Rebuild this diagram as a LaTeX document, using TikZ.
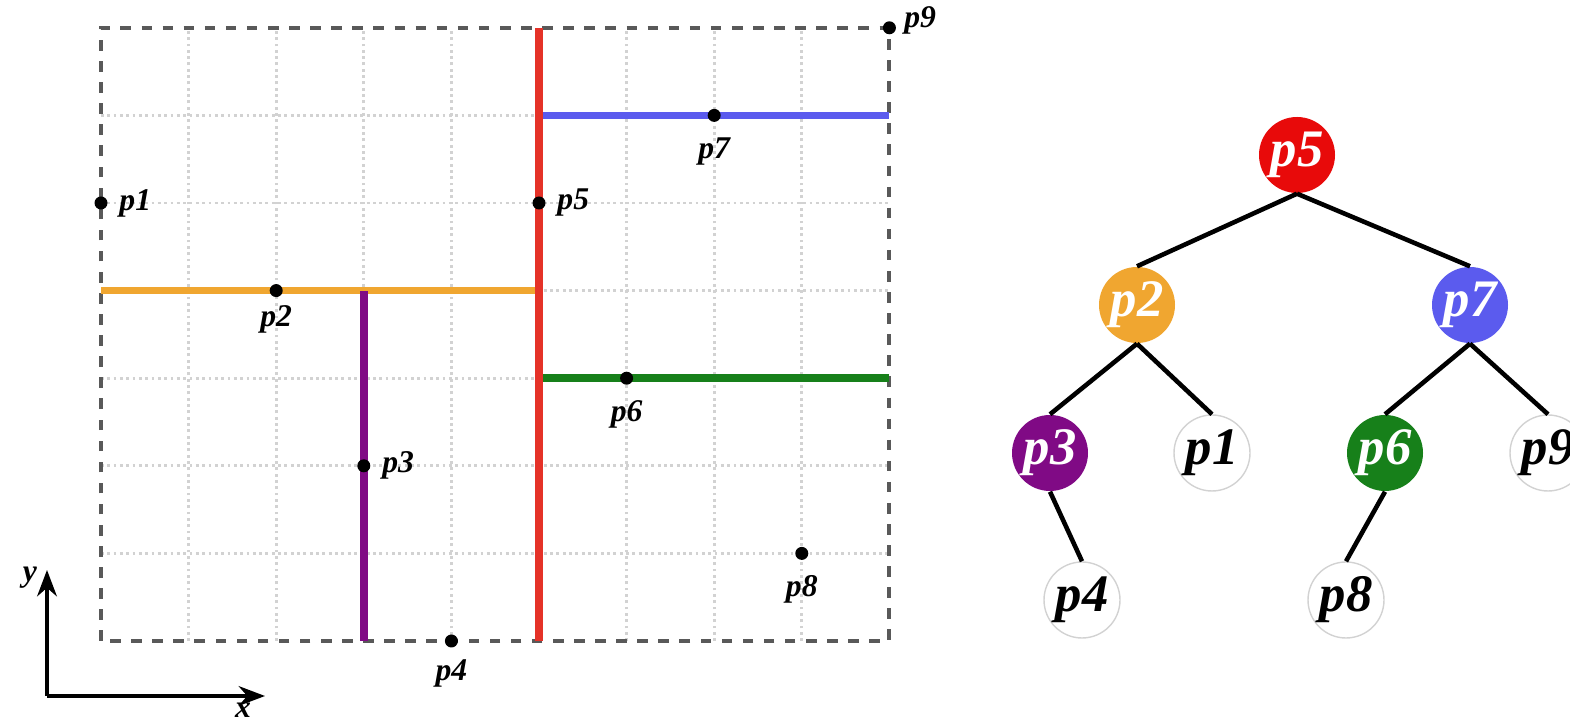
\documentclass[tikz,border=0pt]{standalone}
\usepackage{fontspec}
\setmainfont{Liberation Serif}
\usetikzlibrary{arrows.meta, positioning}
\definecolor{cutred}{HTML}{E53228}
\definecolor{cutorange}{HTML}{F0A630}
\definecolor{cutpurple}{HTML}{800A85}
\definecolor{cutblue}{HTML}{5B5BEE}
\definecolor{cutgreen}{HTML}{17801A}
\definecolor{rootred}{HTML}{E80A0A}

\begin{document}
\begin{tikzpicture}[>=Stealth, font=\bfseries\itshape,
  pt/.style={circle, fill=black, inner sep=0pt, minimum size=0.13cm},
  lab/.style={font=\fontsize{9}{10}\selectfont\bfseries\itshape, inner sep=2pt},
  cut/.style={line width=2.2pt},
  knot/.style={circle, minimum size=0.76cm, inner sep=0pt, font=\fontsize{15}{16}\selectfont\bfseries\itshape},
  leaf/.style={knot, draw=gray!35, fill=white, text=black},
  inner/.style={knot, fill=#1, text=white},
  edge/.style={line width=1.3pt}]
  \useasboundingbox (0,0) rectangle (15.7,7.22);

  % Rovina s body
  \begin{scope}[shift={(1.01,0.81)}, x=0.876cm, y=0.876cm]
    \foreach \i in {1,...,8}
      \draw[gray!35, densely dotted, thick] (\i,0) -- (\i,7);
    \foreach \j in {1,...,6}
      \draw[gray!35, densely dotted, thick] (0,\j) -- (9,\j);
    \draw[gray!70!black, dashed, line width=1.1pt] (0,0) rectangle (9,7);
    % deleni
    \draw[cut, cutorange] (0,4) -- (5,4);
    \draw[cut, cutpurple] (3,0) -- (3,4);
    \draw[cut, cutblue] (5,6) -- (9,6);
    \draw[cut, cutgreen] (5,3) -- (9,3);
    \draw[cut, cutred] (5,0) -- (5,7);
    % body
    \node[pt] (q1) at (0,5) {};
    \node[pt] (q2) at (2,4) {};
    \node[pt] (q3) at (3,2) {};
    \node[pt] (q4) at (4,0) {};
    \node[pt] (q5) at (5,5) {};
    \node[pt] (q6) at (6,3) {};
    \node[pt] (q7) at (7,6) {};
    \node[pt] (q8) at (8,1) {};
    \node[pt] (q9) at (9,7) {};
    \node[lab, right=1pt of q1] {p1};
    \node[lab, below=0pt of q2] {p2};
    \node[lab, right=1pt of q3] {p3};
    \node[lab, below=1pt of q4] {p4};
    \node[lab, right=1pt of q5] {p5};
    \node[lab, below=2pt of q6] {p6};
    \node[lab, below=2pt of q7] {p7};
    \node[lab, below=2pt of q8] {p8};
    \node[lab, right=0pt of q9, yshift=2pt] {p9};
  \end{scope}

  % Osy
  \coordinate (o) at (0.47,0.26);
  \coordinate (ytip) at (0.47,1.52);
  \coordinate (xtip) at (2.65,0.26);
  \draw[->, line width=1pt] (o) -- (ytip);
  \draw[->, line width=1pt] (o) -- (xtip);
  \node[lab] (ylab) at (0.30,1.44) {y};
  \node[lab] (xlab) at (2.43,0.12) {x};

  % Strom
  \node[inner=rootred] (t5) at (12.97,5.67) {p5};
  \node[inner=cutorange] (t2) at (11.37,4.17) {p2};
  \node[inner=cutblue] (t7) at (14.70,4.17) {p7};
  \node[inner=cutpurple] (t3) at (10.50,2.69) {p3};
  \node[leaf] (t1) at (12.12,2.69) {p1};
  \node[inner=cutgreen] (t6) at (13.85,2.69) {p6};
  \node[leaf] (t9) at (15.48,2.69) {p9};
  \node[leaf] (t4) at (10.82,1.22) {p4};
  \node[leaf] (t8) at (13.46,1.22) {p8};

  \draw[edge] (t5.south) -- (t2.north);
  \draw[edge] (t5.south) -- (t7.north);
  \draw[edge] (t2.south) -- (t3.north);
  \draw[edge] (t2.south) -- (t1.north);
  \draw[edge] (t7.south) -- (t6.north);
  \draw[edge] (t7.south) -- (t9.north);
  \draw[edge] (t3.south) -- (t4.north);
  \draw[edge] (t6.south) -- (t8.north);
\end{tikzpicture}
\end{document}
